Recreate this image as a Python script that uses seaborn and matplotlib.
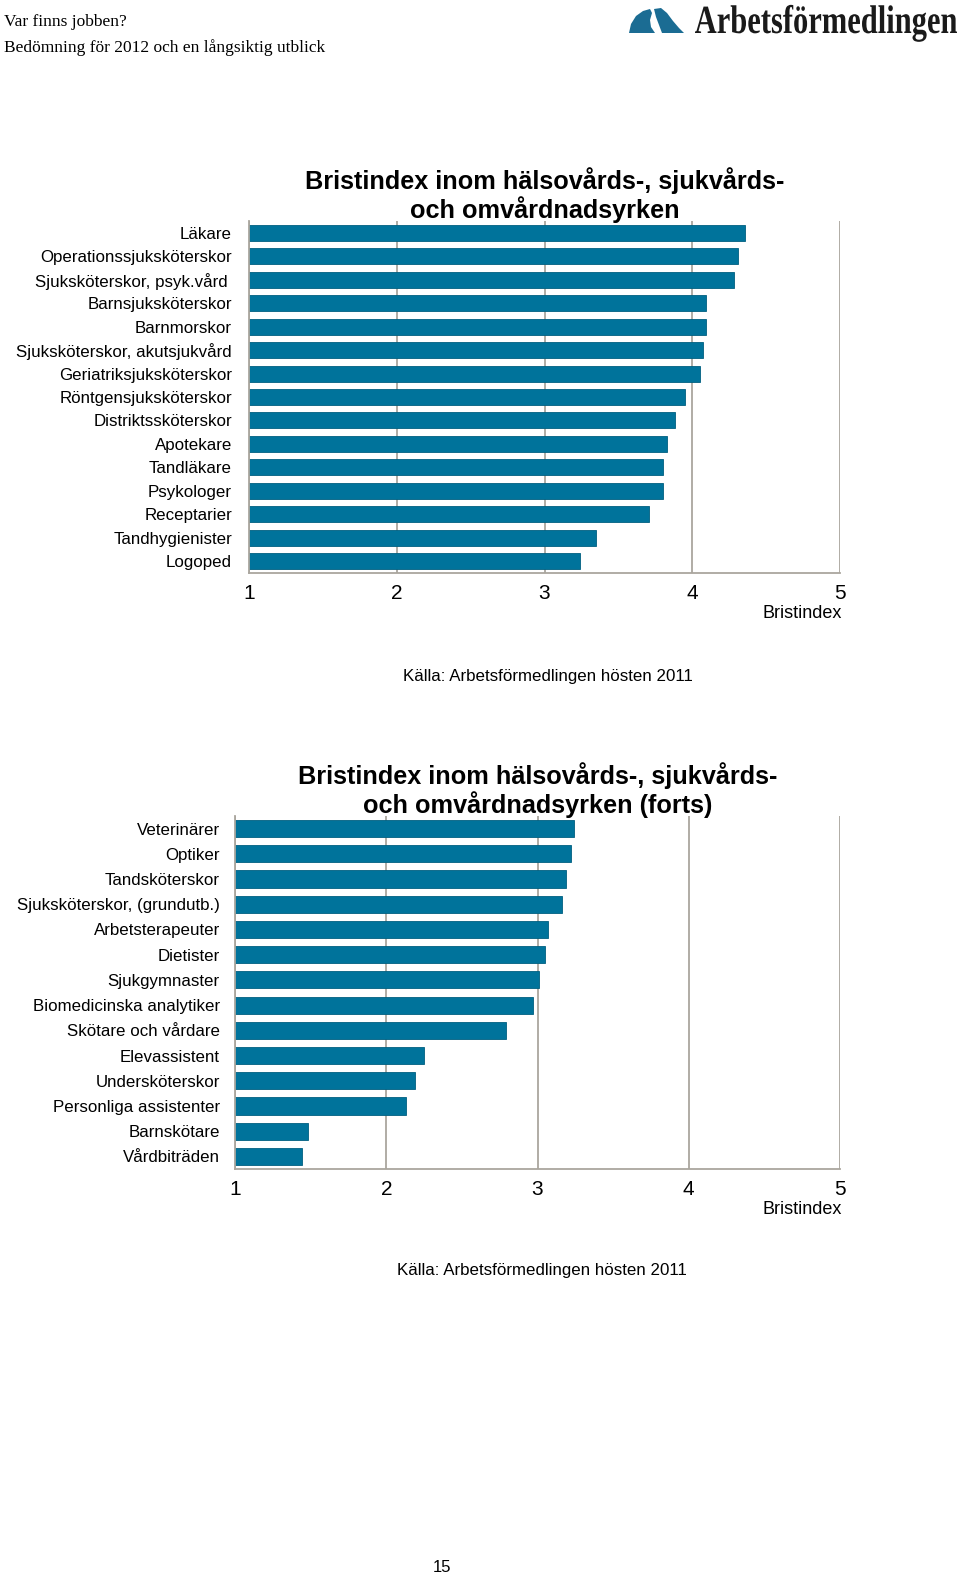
import numpy as np
import pandas as pd
import matplotlib
matplotlib.use('Agg')
import matplotlib.pyplot as plt
from matplotlib.patches import Polygon, PathPatch
from matplotlib.textpath import TextPath
from matplotlib.font_manager import FontProperties
from matplotlib.transforms import Affine2D
import seaborn as sns

# data
yrken1 = ['Läkare', 'Operationssjuksköterskor', 'Sjuksköterskor, psyk.vård ', 'Barnsjuksköterskor',
          'Barnmorskor', 'Sjuksköterskor, akutsjukvård', 'Geriatriksjuksköterskor',
          'Röntgensjuksköterskor', 'Distriktssköterskor', 'Apotekare', 'Tandläkare',
          'Psykologer', 'Receptarier', 'Tandhygienister', 'Logoped']
index1 = [4.36, 4.31, 4.28, 4.09, 4.09, 4.07, 4.05, 3.95, 3.88, 3.83, 3.80, 3.80, 3.71, 3.35, 3.24]

yrken2 = ['Veterinärer', 'Optiker', 'Tandsköterskor', 'Sjuksköterskor, (grundutb.)',
          'Arbetsterapeuter', 'Dietister', 'Sjukgymnaster', 'Biomedicinska analytiker',
          'Skötare och vårdare', 'Elevassistent', 'Undersköterskor', 'Personliga assistenter',
          'Barnskötare', 'Vårdbiträden']
index2 = [3.24, 3.22, 3.19, 3.16, 3.07, 3.05, 3.01, 2.97, 2.79, 2.25, 2.19, 2.13, 1.48, 1.44]

titel1 = 'Bristindex inom hälsovårds-, sjukvårds-\noch omvårdnadsyrken'
titel2 = 'Bristindex inom hälsovårds-, sjukvårds-\noch omvårdnadsyrken (forts)'
kalla = 'Källa: Arbetsförmedlingen hösten 2011'
xticks = [1, 2, 3, 4, 5]

sns.set_style('white')
plt.rcParams['font.family'] = ['Liberation Sans', 'DejaVu Sans']
plt.rcParams['text.color'] = 'black'
plt.rcParams['xtick.color'] = 'black'
plt.rcParams['ytick.color'] = 'black'
plt.rcParams['axes.titlecolor'] = 'black'

W, H = 960, 1576
fig = plt.figure(figsize=(9.6, 15.76), dpi=100)

bar_col = '#00739b'
grid_col = '#aaa69e'


def rect(l, t, r, b):
    return [l / W, 1 - b / H, (r - l) / W, (b - t) / H]


def draw(ax, names, vals, titel, pad):
    df = pd.DataFrame({'yrke': names, 'index': vals})
    sns.barplot(data=df, x='index', y='yrke', ax=ax, color=bar_col, saturation=1,
                width=0.68, edgecolor='#005f80', linewidth=0.6)
    ax.set_xlim(1, 5)
    ax.set_xticks(xticks)
    ax.set_xticklabels([str(t) for t in xticks], fontsize=15)
    ax.tick_params(axis='x', length=0, pad=8)
    ax.tick_params(axis='y', length=0, pad=pad, labelsize=12.2)
    ax.xaxis.grid(True, color=grid_col, linewidth=1.3)
    ax.set_axisbelow(True)
    for s in ['top', 'right']:
        ax.spines[s].set_visible(False)
    for s in ['left', 'bottom']:
        ax.spines[s].set_color(grid_col)
        ax.spines[s].set_linewidth(1.3)
    ax.set_xlabel('')
    ax.set_ylabel('')
    ax.set_title(titel, fontsize=18.2, fontweight='bold', pad=2.5, linespacing=1.08)
    ax.annotate('Bristindex', xy=(1, 0), xycoords='axes fraction', xytext=(2, -41),
                textcoords='offset pixels', ha='right', va='center', fontsize=13)


ax1 = fig.add_axes(rect(249, 221, 840, 573))
draw(ax1, yrken1, index1, titel1, 12.2)
ax2 = fig.add_axes(rect(235, 816, 840, 1169))
draw(ax2, yrken2, index2, titel2, 11)

fig.text(548 / W, 1 - 676 / H, kalla, ha='center', va='center', fontsize=12.2)
fig.text(542 / W, 1 - 1271 / H, kalla, ha='center', va='center', fontsize=12.2)

# page header
fig.text(4 / W, 1 - 22 / H, 'Var finns jobben?', family='Liberation Serif', fontsize=12.5, va='center')
fig.text(4 / W, 1 - 48 / H, 'Bedömning för 2012 och en långsiktig utblick', family='Liberation Serif',
         fontsize=12.5, va='center')

# logo text, squeezed to the condensed look of the original
tp = TextPath((0, 0), 'Arbetsförmedlingen', size=1,
              prop=FontProperties(family='Liberation Serif', weight='bold'))
ext = tp.get_extents()
sx = (957 - 695) / ext.width
sy = 40
tr = Affine2D().translate(-ext.x0, 0).scale(sx / W, sy / H).translate(695 / W, 1 - 33 / H) + fig.transFigure
fig.patches.append(PathPatch(tp, transform=tr, facecolor='#1a1a1a', edgecolor='none'))

logo_l = [(629, 33), (631, 24), (636, 16), (643, 11), (650, 9), (652, 13), (650, 20), (651, 27), (655, 33)]
logo_r = [(654, 9), (661, 8), (667, 13), (673, 21), (679, 28), (684, 33), (662, 33), (659, 25), (656, 17)]
for pts in (logo_l, logo_r):
    fig.patches.append(Polygon([(x / W, 1 - y / H) for x, y in pts], closed=True,
                               transform=fig.transFigure, facecolor='#1b6c93', edgecolor='none'))

fig.text(442 / W, 1 - 1568 / H, '15', ha='center', va='center', fontsize=12)

fig.savefig('out.png', dpi=100)
